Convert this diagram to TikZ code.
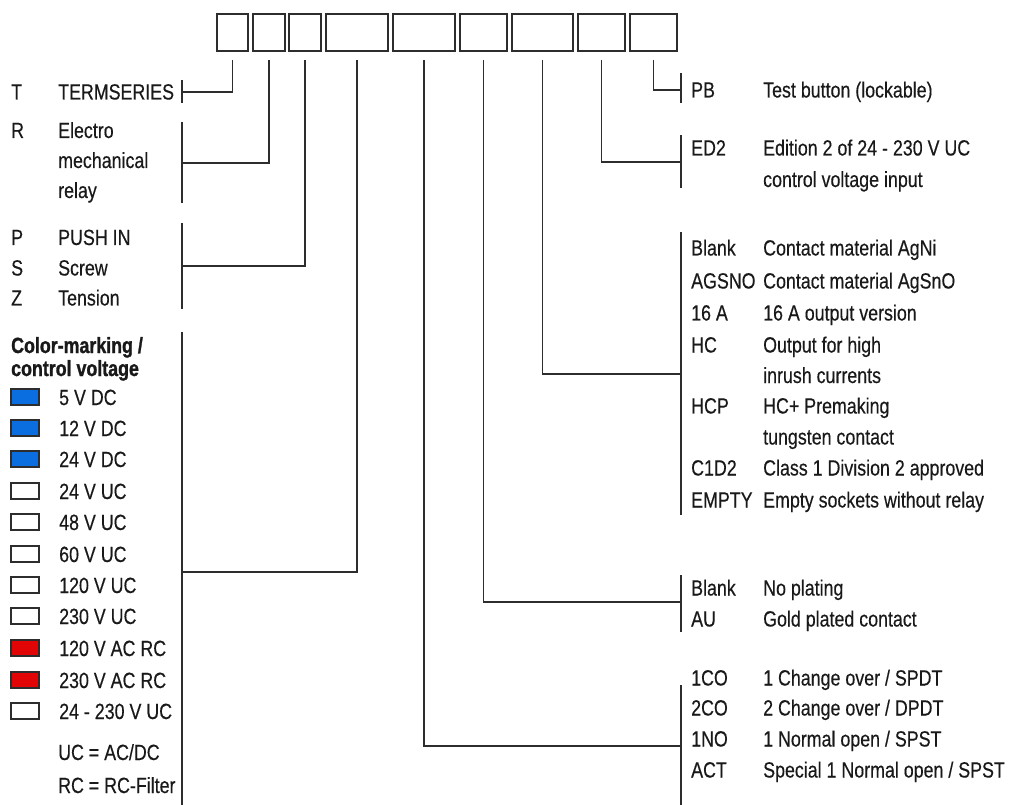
\documentclass[tikz,border=0pt]{standalone}
\usepackage{fontspec}
\setmainfont[FakeStretch=0.81,FakeBold=0.35]{Liberation Sans}[BoldFeatures={FakeBold=1.2}]
\definecolor{mkblue}{RGB}{10,110,225}
\definecolor{mkred}{RGB}{225,5,5}
\definecolor{ink}{RGB}{45,45,45}
\begin{document}
\begin{tikzpicture}[x=1pt,y=-1pt,
  ln/.style={line width=1.6pt, draw=ink},
  slot/.style={draw=ink, line width=1.6pt, minimum height=37pt, inner sep=0pt},
  txt/.style={anchor=base west, inner sep=0pt, text=black!90, font=\fontsize{22}{26}\selectfont},
  hdr/.style={txt, font=\fontsize{22}{26}\selectfont\bfseries},
  sw/.style={draw=ink, line width=1.2pt, minimum width=28pt, minimum height=16pt, inner sep=0pt}]
\useasboundingbox (0,0) rectangle (1013,805);

% top slots
\node[slot, minimum width=31pt] (b1) at (232.5,32.5) {};
\node[slot, minimum width=32pt] (b2) at (269,32.5) {};
\node[slot, minimum width=32pt] (b3) at (305,32.5) {};
\node[slot, minimum width=62pt] (b4) at (357,32.5) {};
\node[slot, minimum width=62pt] (b5) at (424,32.5) {};
\node[slot, minimum width=47pt] (b6) at (483.5,32.5) {};
\node[slot, minimum width=61pt] (b7) at (542.5,32.5) {};
\node[slot, minimum width=47pt] (b8) at (601.5,32.5) {};
\node[slot, minimum width=47pt] (b9) at (653.5,32.5) {};

% bracket bars (left)
\coordinate (lTa) at (182,80);  \coordinate (lTb) at (182,103); \coordinate (lT) at (182,92);
\coordinate (lRa) at (182,122); \coordinate (lRb) at (182,203); \coordinate (lR) at (182,163);
\coordinate (lPa) at (182,223); \coordinate (lPb) at (182,309); \coordinate (lP) at (182,266);
\coordinate (lCa) at (182,332); \coordinate (lCb) at (182,805); \coordinate (lC) at (182,572);
% bracket bars (right)
\coordinate (rPBa) at (681,73);  \coordinate (rPBb) at (681,103); \coordinate (rPB) at (681,90);
\coordinate (rEDa) at (681,135); \coordinate (rEDb) at (681,188); \coordinate (rED) at (681,162);
\coordinate (rMa) at (681,232);  \coordinate (rMb) at (681,515); \coordinate (rM) at (681,374);
\coordinate (rAa) at (681,575);  \coordinate (rAb) at (681,632); \coordinate (rA) at (681,602);
\coordinate (rKa) at (681,685);  \coordinate (rKb) at (681,805); \coordinate (rK) at (681,746);

\foreach \a/\b in {lTa/lTb,lRa/lRb,lPa/lPb,lCa/lCb,rPBa/rPBb,rEDa/rEDb,rMa/rMb,rAa/rAb,rKa/rKb}
  \draw[ln] (\a) -- (\b);

% connectors
\draw[ln] ([yshift=-8pt]b1.south) |- (lT);
\draw[ln] ([yshift=-8pt]b2.south) |- (lR);
\draw[ln] ([yshift=-8pt]b3.south) |- (lP);
\draw[ln] ([yshift=-8pt]b4.south) |- (lC);
\draw[ln] ([yshift=-8pt]b5.south) |- (rK);
\draw[ln] ([yshift=-8pt]b6.south) |- (rA);
\draw[ln] ([yshift=-8pt]b7.south) |- (rM);
\draw[ln] ([yshift=-8pt]b8.south) |- (rED);
\draw[ln] ([yshift=-8pt]b9.south) |- (rPB);

% left texts
\node[txt] (kT) at (11,99.5) {T};
\node[txt] (dT) at (58,99.5) {TERMSERIES};
\node[txt] (kR) at (11,138) {R};
\node[txt] (dR1) at (58,138) {Electro};
\node[txt] (dR2) at (58,168) {mechanical};
\node[txt] (dR3) at (58,198) {relay};
\node[txt] (kP) at (11,245) {P};
\node[txt] (dP) at (58,245) {PUSH IN};
\node[txt] (kS) at (11,275.5) {S};
\node[txt] (dS) at (58,275.5) {Screw};
\node[txt] (kZ) at (11,305.5) {Z};
\node[txt] (dZ) at (58,305.5) {Tension};
\node[hdr] (h1) at (11,353) {Color-marking /};
\node[hdr] (h2) at (11,376) {control voltage};

\node[sw, fill=mkblue] (s1) at (25,397) {};  \node[txt] (v1) at (59,405) {5 V DC};
\node[sw, fill=mkblue] (s2) at (25,428) {};  \node[txt] (v2) at (59,436) {12 V DC};
\node[sw, fill=mkblue] (s3) at (25,459) {};  \node[txt] (v3) at (59,467) {24 V DC};
\node[sw, fill=white] (s4) at (25,491) {};   \node[txt] (v4) at (59,499) {24 V UC};
\node[sw, fill=white] (s5) at (25,522) {};   \node[txt] (v5) at (59,530) {48 V UC};
\node[sw, fill=white] (s6) at (25,554) {};   \node[txt] (v6) at (59,562) {60 V UC};
\node[sw, fill=white] (s7) at (25,585) {};   \node[txt] (v7) at (59,593) {120 V UC};
\node[sw, fill=white] (s8) at (25,616) {};   \node[txt] (v8) at (59,624) {230 V UC};
\node[sw, fill=mkred] (s9) at (25,648) {};   \node[txt] (v9) at (59,656) {120 V AC RC};
\node[sw, fill=mkred] (s10) at (25,680) {};  \node[txt] (v10) at (59,688) {230 V AC RC};
\node[sw, fill=white] (s11) at (25,711) {};  \node[txt] (v11) at (59,719) {24 - 230 V UC};
\node[txt] (n1) at (58,760) {UC = AC/DC};
\node[txt] (n2) at (58,793) {RC = RC-Filter};

% right texts
\node[txt] (kPB) at (691,97.5) {PB};
\node[txt] (dPB) at (763,97.5) {Test button (lockable)};
\node[txt] (kED) at (691,155.5) {ED2};
\node[txt] (dED1) at (763,155.5) {Edition 2 of 24 - 230 V UC};
\node[txt] (dED2) at (763,187) {control voltage input};

\node[txt] (kM1) at (691,255.5) {Blank};  \node[txt] (dM1) at (763,255.5) {Contact material AgNi};
\node[txt] (kM2) at (691,288.5) {AGSNO};  \node[txt] (dM2) at (763,288.5) {Contact material AgSnO};
\node[txt] (kM3) at (691,320.5) {16 A};   \node[txt] (dM3) at (763,320.5) {16 A output version};
\node[txt] (kM4) at (691,352.5) {HC};     \node[txt] (dM4) at (763,352.5) {Output for high};
                                          \node[txt] (dM4b) at (763,383) {inrush currents};
\node[txt] (kM5) at (691,413.5) {HCP};    \node[txt] (dM5) at (763,413.5) {HC+ Premaking};
                                          \node[txt] (dM5b) at (763,444.5) {tungsten contact};
\node[txt] (kM6) at (691,475.5) {C1D2};   \node[txt] (dM6) at (763,475.5) {Class 1 Division 2 approved};
\node[txt] (kM7) at (691,507.5) {EMPTY};  \node[txt] (dM7) at (763,507.5) {Empty sockets without relay};

\node[txt] (kA1) at (691,595.5) {Blank};  \node[txt] (dA1) at (763,595.5) {No plating};
\node[txt] (kA2) at (691,626.5) {AU};     \node[txt] (dA2) at (763,626.5) {Gold plated contact};

\node[txt] (kK1) at (691,685.5) {1CO};    \node[txt] (dK1) at (763,685.5) {1 Change over / SPDT};
\node[txt] (kK2) at (691,715.5) {2CO};    \node[txt] (dK2) at (763,715.5) {2 Change over / DPDT};
\node[txt] (kK3) at (691,746.5) {1NO};    \node[txt] (dK3) at (763,746.5) {1 Normal open / SPST};
\node[txt] (kK4) at (691,777.5) {ACT};    \node[txt] (dK4) at (763,777.5) {Special 1 Normal open / SPST};
\end{tikzpicture}
\end{document}
